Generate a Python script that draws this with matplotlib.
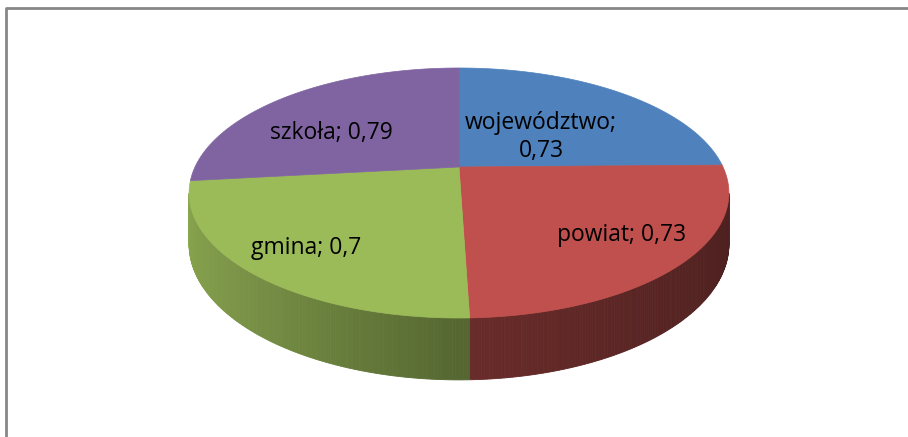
import numpy as np
import matplotlib.pyplot as plt
from matplotlib.patches import Polygon
from matplotlib.colors import to_rgb

# data
labels = ["województwo", "powiat", "gmina", "szkoła"]
values = [0.73, 0.73, 0.7, 0.79]
value_txt = ["0,73", "0,73", "0,7", "0,79"]
colors = ["#4F81BD", "#C0504D", "#9BBB59", "#8064A2"]

# layout of the 3d pie (pixel coords)
W, H = 908, 437
cx, cy = 459, 167
A, B, p = 264, 119.6, 0.208
D = 49  # depth


### --------------------------------------------
def proj(theta, z=0.0):
    """ theta clockwise from back (top of ellipse), degrees """
    t = np.radians(theta)
    x = np.sin(t)
    yf = -np.cos(t)
    k = 1.0 / (1 - p * yf)
    return cx + A * x * k, cy + B * yf * k + z * k


def shade(theta):
    x = np.sin(np.radians(theta))
    return 0.55 - 0.33 * x if x < 0 else 0.55 - 0.15 * x


fig = plt.figure(figsize=(W / 100, H / 100), dpi=100)
ax = fig.add_axes([0, 0, 1, 1])
ax.set_xlim(0, W)
ax.set_ylim(H, 0)
ax.axis("off")

fracs = np.array(values) / np.sum(values)
bounds = np.concatenate([[0], np.cumsum(fracs) * 360])

# side walls (visible part only)
vis0, vis1 = 102, 258
for i in range(len(values)):
    a0, a1 = max(bounds[i], vis0), min(bounds[i + 1], vis1)
    if a1 <= a0:
        continue
    base = np.array(to_rgb(colors[i]))
    steps = np.linspace(a0, a1, int((a1 - a0) / 0.5) + 2)
    for s0, s1 in zip(steps[:-1], steps[1:]):
        u0, v0 = proj(s0)
        u1, v1 = proj(s1)
        u2, v2 = proj(s1, D)
        u3, v3 = proj(s0, D)
        c = base * shade((s0 + s1) / 2)
        ax.add_patch(Polygon([(u0, v0), (u1, v1), (u2, v2), (u3, v3)],
                             closed=True, fc=c, ec=c, lw=0.6))

# top faces
for i in range(len(values)):
    th = np.linspace(bounds[i], bounds[i + 1], 200)
    u, v = proj(th)
    pts = [(cx, cy)] + list(zip(u, v))
    ax.add_patch(Polygon(pts, closed=True, fc=colors[i], ec=colors[i], lw=0.5))

# labels
fs = 16.5
fam = ["Open Sans", "DejaVu Sans"]
ax.text(541, 137, labels[0] + ";\n" + value_txt[0], ha="center", va="center",
        fontsize=fs, family=fam, linespacing=1.25)
ax.text(622, 235, labels[1] + "; " + value_txt[1], ha="center", va="center",
        fontsize=fs, family=fam)
ax.text(306, 248, labels[2] + "; " + value_txt[2], ha="center", va="center",
        fontsize=fs, family=fam)
ax.text(331, 133, labels[3] + "; " + value_txt[3], ha="center", va="center",
        fontsize=fs, family=fam)

# chart frame (clipped at right/bottom)
ax.plot([6, 6, W + 5], [H + 5, 8, 8], color="#878787", lw=2, solid_capstyle="butt")

fig.savefig("out.png", dpi=100)
plt.close()
